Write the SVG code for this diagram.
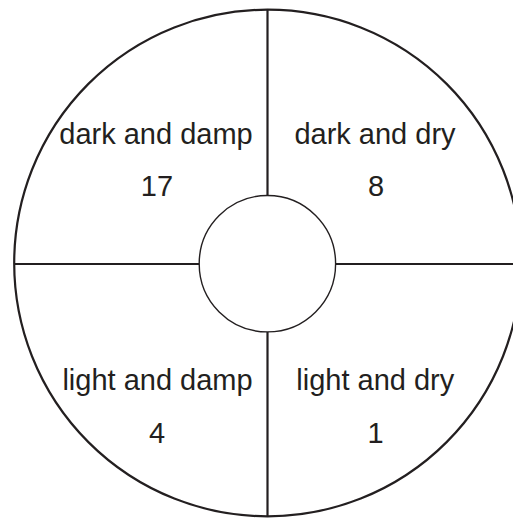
<svg xmlns="http://www.w3.org/2000/svg" width="513" height="518" viewBox="0 0 513 518">
<style>
.ln{stroke:#231f20;stroke-width:2.2;fill:none}
.inner{stroke:#231f20;stroke-width:1.4;fill:#fff}
text{font-family:"Liberation Sans",Arial,sans-serif;font-size:29px;fill:#231f20;text-anchor:middle}
</style>
<rect width="513" height="518" fill="#fff"/>
<g id="outer"><circle class="ln" cx="267.5" cy="263" r="253.3"/></g>
<g id="connectors">
<line class="ln" x1="267.5" y1="10" x2="267.5" y2="196"/>
<line class="ln" x1="267.5" y1="331" x2="267.5" y2="516"/>
<line class="ln" x1="14" y1="264" x2="199.5" y2="264"/>
<line class="ln" x1="335.5" y1="264" x2="513" y2="264"/>
</g>
<g id="center"><circle class="inner" cx="267.4" cy="263.7" r="68.2"/></g>
<g id="dark-damp"><text x="156" y="143.5">dark and damp</text><text x="157" y="196">17</text></g>
<g id="dark-dry"><text x="375" y="143.5">dark and dry</text><text x="376" y="196">8</text></g>
<g id="light-damp"><text x="157.5" y="390">light and damp</text><text x="157" y="443">4</text></g>
<g id="light-dry"><text x="375.3" y="390">light and dry</text><text x="375.5" y="443">1</text></g>
</svg>
